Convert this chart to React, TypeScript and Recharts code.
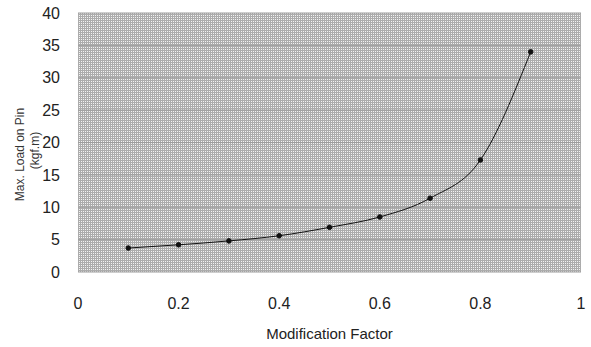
import { LineChart, Line, XAxis, YAxis, CartesianGrid, Label } from "recharts";

const factors = [0.1, 0.2, 0.3, 0.4, 0.5, 0.6, 0.7, 0.8, 0.9];
const maxLoad = [3.7, 4.2, 4.8, 5.6, 6.9, 8.5, 11.4, 17.3, 34];
const xTicks = [0, 0.2, 0.4, 0.6, 0.8, 1];
const yTicks = [0, 5, 10, 15, 20, 25, 30, 35, 40];

const data = factors.map((f, i) => ({ factor: f, load: maxLoad[i] }));

const font = "'Liberation Sans', Arial, sans-serif";

const YTitle = (props: any) => {
  const vb = props.viewBox || {};
  const cy = vb.y + vb.height / 2 + 12;
  return (
    <g fill="#333" fontFamily={font} fontSize={12}>
      <text transform={`translate(24, ${cy}) rotate(-90)`} textAnchor="middle">
        Max. Load on Pin
      </text>
      <text transform={`translate(39, ${cy - 4}) rotate(-90)`} textAnchor="middle">
        (kgf.m)
      </text>
    </g>
  );
};

export default function App() {
  return (
    <div style={{ position: "absolute", left: 0, top: 0, background: "#fff" }}>
      <LineChart
        width={591}
        height={347}
        data={data}
        margin={{ top: 13, right: 10, bottom: 5, left: 0 }}
      >
        <defs>
          <pattern id="halftone" width="2" height="2" patternUnits="userSpaceOnUse">
            <rect width="2" height="2" fill="#acacac" />
            <rect x="1" y="1" width="1" height="1" fill="#f2f2f2" />
          </pattern>
        </defs>
        <CartesianGrid
          vertical={false}
          horizontal
          stroke="#9c9c9c"
          strokeWidth={1}
          fill="url(#halftone)"
          fillOpacity={1}
        />
        <XAxis
          dataKey="factor"
          type="number"
          domain={[0, 1]}
          ticks={xTicks}
          axisLine={false}
          tickLine={false}
          tickMargin={20}
          height={70}
          tick={{ fill: "#222", fontSize: 16, fontFamily: font }}
        >
          <Label
            value="Modification Factor"
            position="insideBottom"
            offset={3}
            style={{ fill: "#222", fontSize: 15, fontFamily: font }}
          />
        </XAxis>
        <YAxis
          type="number"
          domain={[0, 40]}
          ticks={yTicks}
          axisLine={false}
          tickLine={false}
          tickMargin={12}
          width={78}
          interval={0}
          tick={{ fill: "#222", fontSize: 16, fontFamily: font }}
        >
          <Label content={<YTitle />} />
        </YAxis>
        <Line
          dataKey="load"
          type="monotone"
          stroke="#111"
          strokeWidth={1}
          dot={{ r: 2.3, fill: "#111", stroke: "#111" }}
          isAnimationActive={false}
        />
      </LineChart>
    </div>
  );
}
